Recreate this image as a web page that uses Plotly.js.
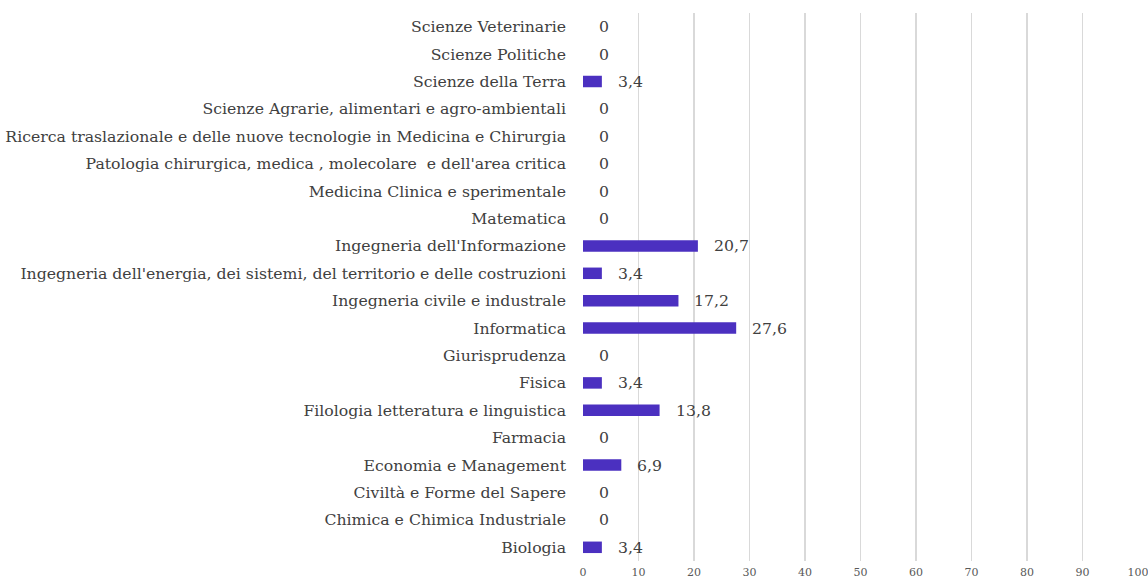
<!DOCTYPE html>
<html><head><meta charset="utf-8">
<script src="https://cdn.plot.ly/plotly-3.0.1.min.js"></script>
<style>html,body{margin:0;padding:0;background:#fff;}#chart{width:1148px;height:581px;}</style>
</head><body><div id="chart"></div>
<script>
const categories = [
  "Biologia",
  "Chimica e Chimica Industriale",
  "Civiltà e Forme del Sapere",
  "Economia e Management",
  "Farmacia",
  "Filologia letteratura e linguistica",
  "Fisica",
  "Giurisprudenza",
  "Informatica",
  "Ingegneria civile e industrale",
  "Ingegneria dell'energia, dei sistemi, del territorio e delle costruzioni",
  "Ingegneria dell'Informazione",
  "Matematica",
  "Medicina Clinica e sperimentale",
  "Patologia chirurgica, medica , molecolare  e dell'area critica",
  "Ricerca traslazionale e delle nuove tecnologie in Medicina e Chirurgia",
  "Scienze Agrarie, alimentari e agro-ambientali",
  "Scienze della Terra",
  "Scienze Politiche",
  "Scienze Veterinarie"
];
const values = [3.4, 0, 0, 6.9, 0, 13.8, 3.4, 0, 27.6, 17.2, 3.4, 20.7, 0, 0, 0, 0, 0, 3.4, 0, 0];
const xTicks = [0, 10, 20, 30, 40, 50, 60, 70, 80, 90, 100];

const fmt = v => String(v).replace('.', ',');
const serif = "DejaVu Serif, serif";

const annotations = values.map((v, i) => ({
  x: v, y: categories[i], xref: 'x', yref: 'y',
  text: fmt(v), showarrow: false, xanchor: 'left', xshift: 14,
  font: {family: serif, size: 15.7, color: '#404040'}
}));

Plotly.newPlot('chart', [{
  type: 'bar', orientation: 'h',
  x: values, y: categories,
  marker: {color: '#4B30C0'},
  width: 0.42,
  hoverinfo: 'none'
}], {
  width: 1148, height: 581,
  margin: {l: 583, r: 10, t: 13, b: 20},
  paper_bgcolor: '#fff', plot_bgcolor: '#fff',
  showlegend: false,
  xaxis: {
    range: [0, 100], tickvals: xTicks, ticktext: xTicks.map(String),
    showgrid: true, gridcolor: '#d9d9d9', gridwidth: 1.5,
    zeroline: false, showline: false, ticks: '',
    ticklabelstandoff: 3, ticklabeloverflow: 'allow',
    tickfont: {family: serif, size: 11, color: '#595959'},
    fixedrange: true
  },
  yaxis: {
    type: 'category', categoryorder: 'array', categoryarray: categories,
    range: [-0.5, categories.length - 0.5],
    showgrid: false, zeroline: false, showline: false, ticks: '',
    ticklabelstandoff: 16,
    tickfont: {family: serif, size: 15.7, color: '#404040'},
    fixedrange: true
  },
  annotations: annotations
}, {displayModeBar: false, staticPlot: true});
</script></body></html>
